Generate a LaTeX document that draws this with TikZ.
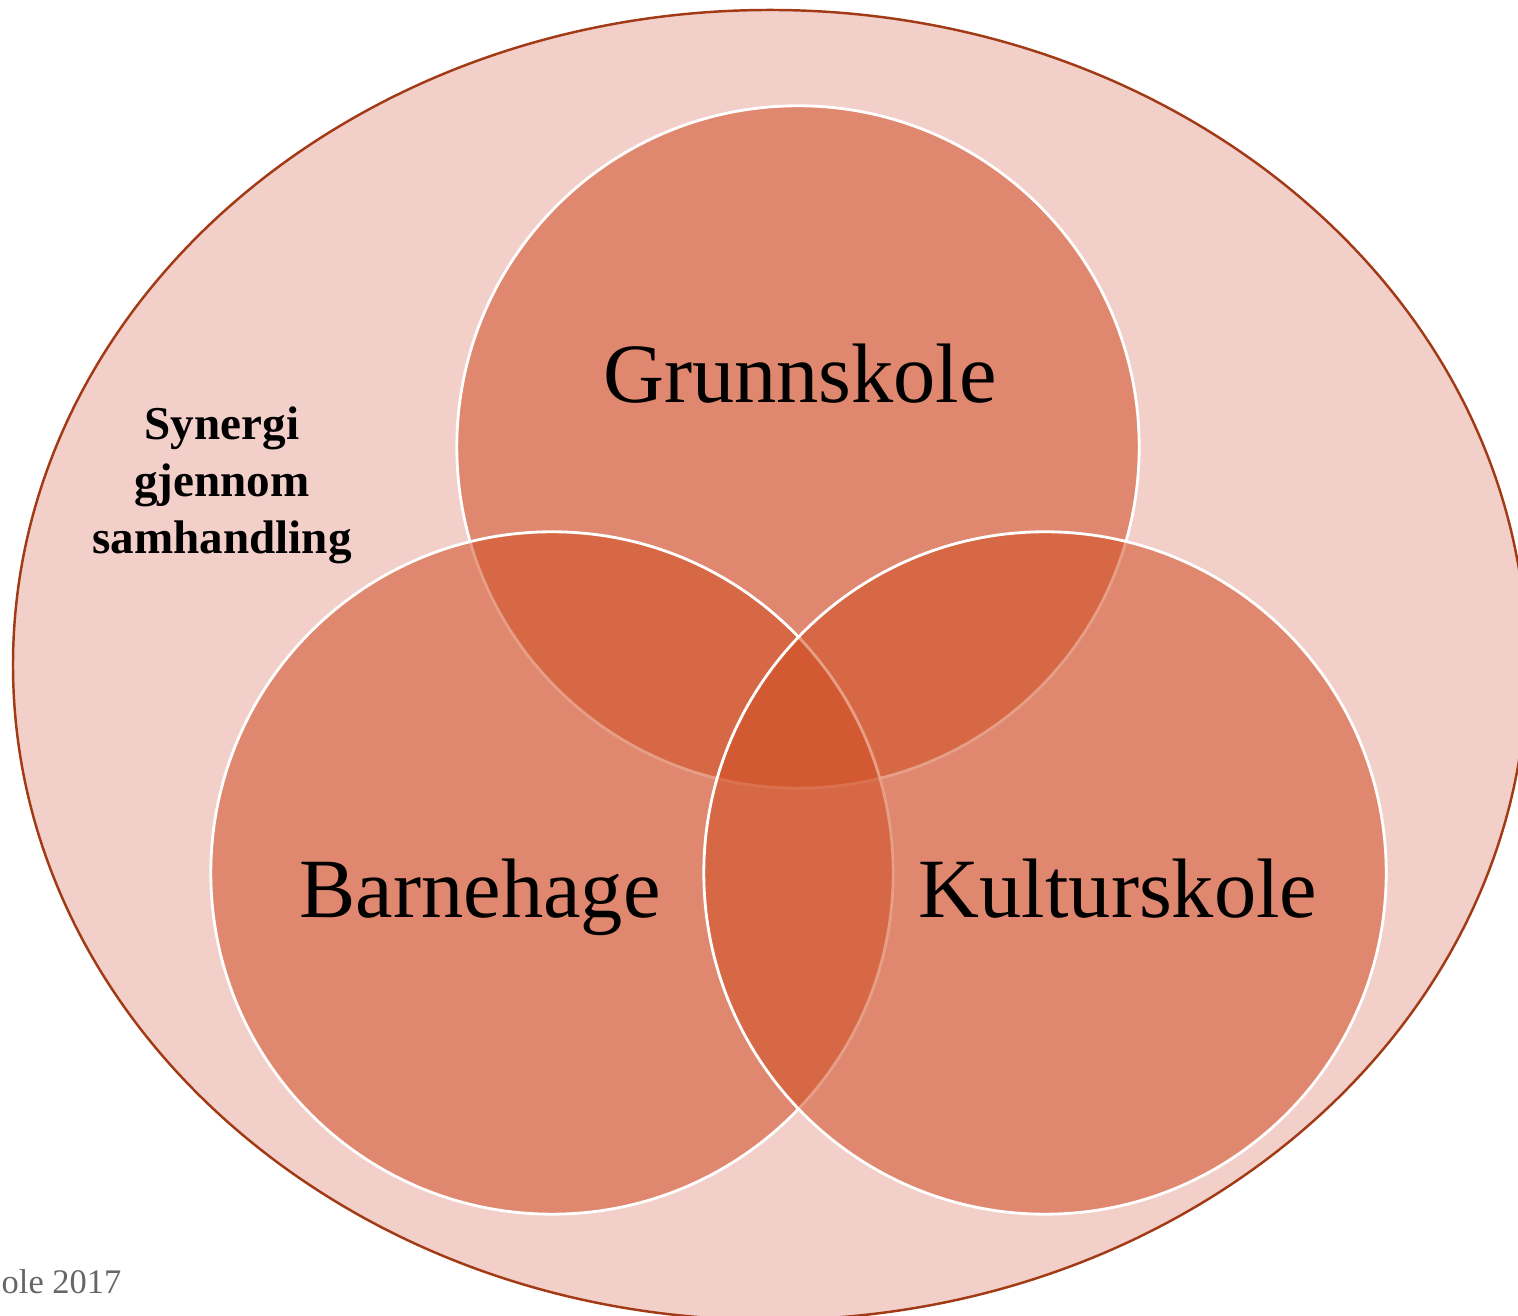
\documentclass[tikz,border=0pt]{standalone}
\usepackage{fontspec}
\setmainfont{Liberation Serif}
\definecolor{ellfill}{HTML}{F3CFCA}
\definecolor{elldraw}{HTML}{A23B15}
\definecolor{vennfill}{HTML}{D14D22}
\definecolor{notegray}{HTML}{666666}
\begin{document}
\begin{tikzpicture}[x=0.01cm,y=0.01cm]
  \useasboundingbox (0,0) rectangle (1518,1316);

  \draw[fill=ellfill,draw=elldraw,line width=0.7pt] (770,651) ellipse [x radius=757, y radius=655];

  \begin{scope}[every node/.style={circle,minimum size=6.82cm,inner sep=0pt,
      fill=vennfill,fill opacity=0.54,draw=white,draw opacity=1,line width=0.8pt}]
    \node (grunn) at (798,869) {};
    \node (barne) at (552,443) {};
    \node (kultur) at (1045,443) {};
  \end{scope}

  \begin{scope}[every node/.style={font=\fontsize{24}{28}\selectfont,anchor=base}]
    \node (tgrunn) at (800,913) {Grunnskole};
    \node (tbarne) at (480,398) {Barnehage};
    \node (tkultur) at (1118,398) {Kulturskole};
  \end{scope}

  \node[font=\bfseries\fontsize{13.4}{16.2}\selectfont,align=center] (synergi) at (222,831)
    {Synergi\\gjennom\\samhandling};
  \node[font=\fontsize{9.8}{12}\selectfont,text=notegray,anchor=base west,inner sep=0pt] (note) at (1,22) {ole 2017};
\end{tikzpicture}
\end{document}
